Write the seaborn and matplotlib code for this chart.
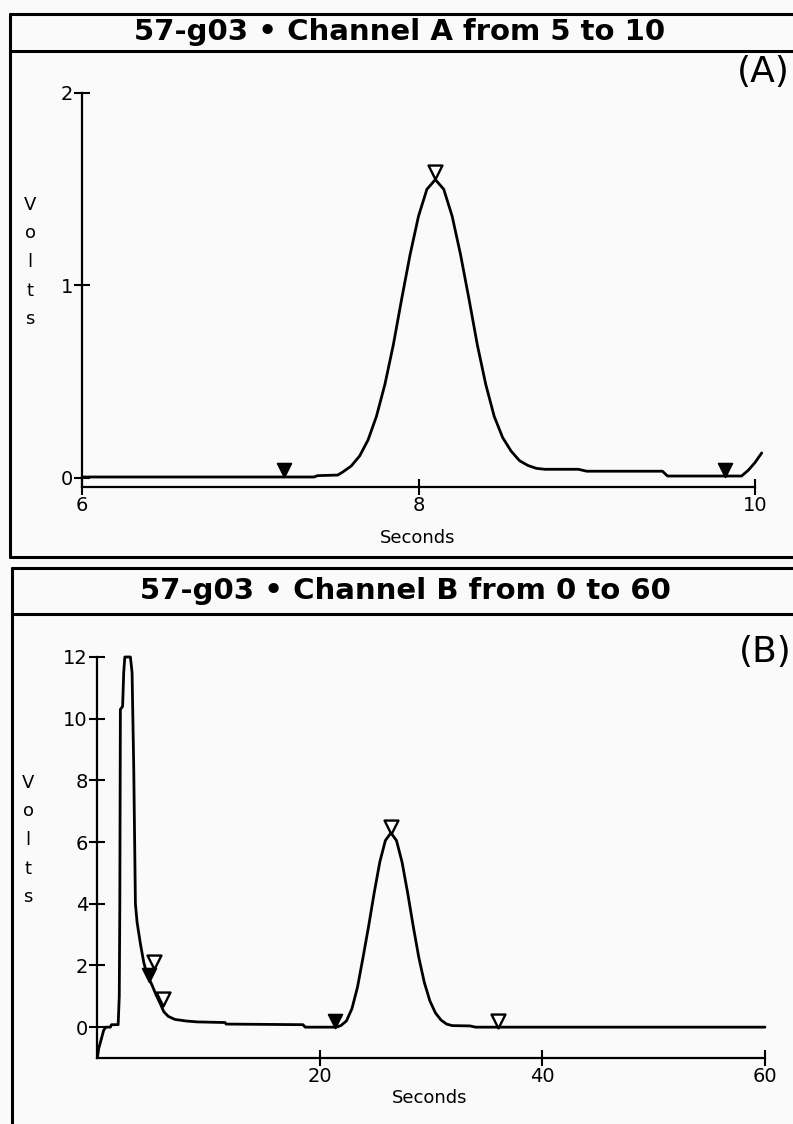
import matplotlib
matplotlib.use('Agg')
import matplotlib.pyplot as plt
import seaborn as sns
import pandas as pd
from matplotlib.lines import Line2D

# ---- Channel A trace (seconds, volts) ----
a_time = [6.0, 7.38, 7.40, 7.52, 7.55, 7.60, 7.65, 7.70, 7.75, 7.80, 7.85, 7.90,
          7.95, 8.00, 8.05, 8.10, 8.15, 8.20, 8.25, 8.30, 8.35, 8.40, 8.45, 8.50,
          8.55, 8.60, 8.65, 8.70, 8.75, 8.95, 9.00, 9.45, 9.48, 9.92, 9.96, 10.00, 10.04]
a_volts = [0.005, 0.005, 0.012, 0.015, 0.031, 0.062, 0.114, 0.197, 0.32, 0.485, 0.69, 0.93,
           1.16, 1.36, 1.50, 1.55, 1.50, 1.36, 1.16, 0.93, 0.69, 0.485, 0.32, 0.21,
           0.14, 0.09, 0.065, 0.05, 0.045, 0.045, 0.035, 0.035, 0.01, 0.01, 0.04, 0.08, 0.13]
a_open_t = [8.1]
a_open_v = [1.59]
a_fill_t = [7.2, 9.82]
a_fill_v = [0.04, 0.04]

# ---- Channel B trace ----
b_time = [0.05, 0.15, 0.3, 0.45, 0.6, 0.8, 1.2, 1.3, 1.9, 2.0, 2.05, 2.1, 2.3, 2.4,
          2.5, 3.0, 3.15, 3.3, 3.45, 3.6, 3.9, 4.2, 4.5, 4.9, 5.3, 5.7, 6.0, 6.4, 7.0,
          8.0, 9.0, 11.5, 11.6, 18.5, 18.7, 21.5, 21.9, 22.4, 22.9, 23.4, 23.9, 24.4,
          24.9, 25.4, 25.9, 26.4, 26.9, 27.4, 27.9, 28.4, 28.9, 29.4, 29.9, 30.4, 30.9,
          31.4, 31.9, 33.5, 34.0, 60.0]
b_volts = [-0.95, -0.7, -0.5, -0.3, -0.1, 0.0, 0.0, 0.08, 0.08, 1.0, 4.0, 10.3, 10.4, 11.5,
           12.0, 12.0, 11.5, 8.4, 4.0, 3.4, 2.7, 2.1, 1.7, 1.4, 1.05, 0.75, 0.5, 0.35, 0.25,
           0.2, 0.17, 0.15, 0.1, 0.08, 0.0, 0.0, 0.05, 0.2, 0.6, 1.3, 2.27, 3.28,
           4.36, 5.35, 6.05, 6.3, 6.05, 5.35, 4.36, 3.28, 2.27, 1.45, 0.85, 0.46, 0.23,
           0.1, 0.05, 0.04, 0.0, 0.0]
b_open_t = [26.4, 5.1, 5.9, 36.0]
b_open_v = [6.5, 2.1, 0.9, 0.2]
b_fill_t = [4.7, 21.4]
b_fill_v = [1.7, 0.2]

a_xticks = [6, 8, 10]
a_yticks = [0, 1, 2]
b_xticks = [20, 40, 60]
b_yticks = [0, 2, 4, 6, 8, 10, 12]

sns.set_style('white')
plt.rcParams['font.family'] = ['DejaVu Sans']
plt.rcParams['text.color'] = 'black'
BG = '#fafafa'

W, H = 793, 1124
fig = plt.figure(figsize=(W / 100, H / 100), dpi=100, facecolor=BG)


def fx(px):
    return px / W


def fy(py):
    return 1 - py / H


def hline(y, x0, x1, lw=2.2):
    fig.add_artist(Line2D([fx(x0), fx(x1)], [fy(y), fy(y)], color='black', lw=lw))


def vline(x, y0, y1, lw=2.2):
    fig.add_artist(Line2D([fx(x), fx(x)], [fy(y0), fy(y1)], color='black', lw=lw))


def panel(rect, t, v, open_t, open_v, fill_t, fill_v, xlim, ylim, xticks, yticks):
    ax = fig.add_axes(rect)
    ax.set_facecolor(BG)
    df = pd.DataFrame({'t': t, 'v': v})
    sns.lineplot(data=df, x='t', y='v', ax=ax, color='black', lw=2.0,
                 estimator=None, sort=False, clip_on=False)
    sns.scatterplot(x=fill_t, y=fill_v, ax=ax, marker='v', s=100, color='black',
                    edgecolor='black', linewidth=1.2, zorder=5, clip_on=False)
    sns.scatterplot(x=open_t, y=open_v, ax=ax, marker='v', s=100, color='white',
                    edgecolor='black', linewidth=1.7, zorder=5, clip_on=False)
    ax.set_xlim(*xlim)
    ax.set_ylim(*ylim)
    sns.despine(ax=ax)
    for s in ['left', 'bottom']:
        ax.spines[s].set_linewidth(1.6)
        ax.spines[s].set_color('black')
    ax.spines['bottom'].set_bounds(xlim[0], xticks[-1])
    ax.set_xticks(xticks)
    ax.set_yticks(yticks)
    ax.tick_params(bottom=True, left=True, direction='inout', length=11, width=1.5,
                   labelsize=14, pad=1, color='black', labelcolor='black')
    ax.set_xlabel('')
    ax.set_ylabel('')
    return ax


# Panel A
ax_a = panel([fx(82), fy(487), fx(755) - fx(82), fy(93) - fy(487)],
             a_time, a_volts, a_open_t, a_open_v, a_fill_t, a_fill_v,
             (6, 10.0), (-0.047, 2.0), a_xticks, a_yticks)
# Panel B
ax_b = panel([fx(97), fy(1058), fx(765) - fx(97), fy(657) - fy(1058)],
             b_time, b_volts, b_open_t, b_open_v, b_fill_t, b_fill_v,
             (0, 60), (-1.0, 12.0), b_xticks, b_yticks)

# frames
hline(14, 10, W + 5)
hline(51, 10, W + 5)
hline(557, 10, W + 5)
vline(10, 14, 557)
hline(568, 12, W + 5)
hline(614, 12, W + 5)
vline(12, 568, H + 5)

title_kw = dict(ha='center', va='center', fontsize=21, fontweight='bold',
                color='black')
fig.text(fx(400), fy(32), '57-g03 \u2022 Channel A from 5 to 10', **title_kw)
fig.text(fx(405), fy(591), '57-g03 \u2022 Channel B from 0 to 60', **title_kw)

fig.text(fx(790), fy(72), '(A)', ha='right', va='center', fontsize=26)
fig.text(fx(792), fy(652), '(B)', ha='right', va='center', fontsize=26)

fig.text(fx(418), fy(538), 'Seconds', ha='center', va='center', fontsize=13)
fig.text(fx(430), fy(1098), 'Seconds', ha='center', va='center', fontsize=13)

fig.text(fx(30), fy(262), 'V\no\nl\nt\ns', ha='center', va='center', fontsize=13,
         linespacing=1.75)
fig.text(fx(28), fy(840), 'V\no\nl\nt\ns', ha='center', va='center', fontsize=13,
         linespacing=1.75)

fig.savefig('out.png', dpi=100, facecolor=BG)
